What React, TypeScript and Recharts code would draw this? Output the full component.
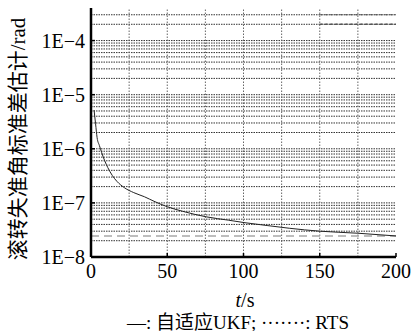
import { LineChart, Line, XAxis, YAxis, ReferenceLine } from 'recharts';

// time stamps (s) and estimated std of roll misalignment (rad)
const tSeconds = [2, 3, 4, 5.5, 7, 9, 11, 14, 17, 22, 28, 35, 42, 50, 60, 76, 90, 101, 116, 130, 150, 175, 200];
const ukfStd = [
  5.2e-6, 2.9e-6, 1.6e-6, 1.15e-6, 8.5e-7, 6e-7, 4.5e-7, 3.2e-7, 2.5e-7, 1.9e-7, 1.55e-7, 1.3e-7,
  1.05e-7, 8.5e-8, 7e-8, 5.5e-8, 4.8e-8, 4.3e-8, 3.8e-8, 3.4e-8, 3.0e-8, 2.75e-8, 2.45e-8,
];
const rtsT = [0, 200];
const rtsStd = [2.45e-8, 2.45e-8];

const xTicks = [0, 50, 100, 150, 200];
const xGrid = [25, 50, 75, 100, 125, 150, 175];
const yTicks = [1e-8, 1e-7, 1e-6, 1e-5, 1e-4];
const decades = [-8, -7, -6, -5, -4];

const ukfData = tSeconds.map((t, i) => ({ t, v: ukfStd[i] }));
const rtsData = rtsT.map((t, i) => ({ t, v: rtsStd[i] }));

// minor log grid: 1..9 x 10^n, up to 3e-4
const yGrid: number[] = [];
decades.forEach((d) => {
  for (let k = 1; k <= 9; k++) {
    const v = k * Math.pow(10, d);
    if (v > 1e-8 && v < 3.5e-4) yGrid.push(v);
  }
});

const serif = 'Liberation Serif, Times New Roman, DejaVu Serif, Noto Sans CJK SC, serif';
const LEFT = 91;
const BOTTOM = 257;

const YTick = ({ y, payload }: any) => {
  const exp = Math.round(Math.log10(payload.value));
  return (
    <g>
      <text x={LEFT - 6} y={y} textAnchor="end" dominantBaseline="central" style={{ fontFamily: serif, fontSize: 20 }} fill="#000">
        {`1E\u2212${-exp}`}
      </text>
      <line x1={LEFT} x2={LEFT + 4} y1={y} y2={y} stroke="#000" strokeWidth={1.5} />
    </g>
  );
};

const XTick = ({ x, payload }: any) => (
  <g>
    <text x={x} y={BOTTOM + 14} textAnchor="middle" dominantBaseline="central" style={{ fontFamily: serif, fontSize: 20 }} fill="#000">
      {payload.value}
    </text>
    <line x1={x} x2={x} y1={BOTTOM} y2={BOTTOM - 4} stroke="#000" strokeWidth={1.5} />
  </g>
);

export default function App() {
  return (
    <div style={{ width: 411, height: 331, background: '#fff' }}>
      <style>{'body{margin:0}'}</style>
      <LineChart width={411} height={331} margin={{ top: 8, right: 15, left: 0, bottom: 44 }}>
        <XAxis
          dataKey="t"
          type="number"
          domain={[0, 200]}
          ticks={xTicks}
          tick={<XTick />}
          tickLine={false}
          height={30}
          axisLine={{ stroke: '#000', strokeWidth: 2.5 }}
        />
        <YAxis
          dataKey="v"
          scale="log"
          domain={[1e-8, 4e-4]}
          allowDataOverflow
          ticks={yTicks}
          tick={<YTick />}
          tickLine={false}
          width={91}
          axisLine={{ stroke: '#000', strokeWidth: 2.5 }}
        />
        {yGrid.map((v) => (
          <ReferenceLine key={`h${v}`} y={v} stroke="#333" strokeWidth={1} strokeDasharray="1.5 1" />
        ))}
        {xGrid.map((v) => (
          <ReferenceLine key={`v${v}`} x={v} stroke="#666" strokeWidth={1} strokeDasharray="1.5 1.5" />
        ))}
        <ReferenceLine segment={[{ x: 150, y: 3e-4 }, { x: 200, y: 3e-4 }]} stroke="#555" strokeWidth={1} strokeDasharray="3 2" />
        <ReferenceLine segment={[{ x: 150, y: 2e-4 }, { x: 200, y: 2e-4 }]} stroke="#555" strokeWidth={1.5} strokeDasharray="3 2" />
        <Line data={rtsData} dataKey="v" type="linear" stroke="#a8a8a8" strokeWidth={1.5} strokeDasharray="8 5" dot={false} isAnimationActive={false} />
        <Line data={ukfData} dataKey="v" type="monotone" stroke="#222" strokeWidth={1} dot={false} isAnimationActive={false} />
        <text
          x={18}
          y={139}
          transform="rotate(-90 18 139)"
          textAnchor="middle"
          dominantBaseline="central"
          style={{ fontFamily: serif, fontSize: 21 }}
          fill="#000"
        >
          滚转失准角标准差估计/rad
        </text>
        <text x={245} y={300} textAnchor="middle" dominantBaseline="central" style={{ fontFamily: serif, fontSize: 20 }} fill="#000">
          <tspan fontStyle="italic">t</tspan>/s
        </text>
        <text x={238} y={322} textAnchor="middle" dominantBaseline="central" style={{ fontFamily: serif, fontSize: 19 }} fill="#000">
          —: 自适应UKF; ·······: RTS
        </text>
      </LineChart>
    </div>
  );
}
